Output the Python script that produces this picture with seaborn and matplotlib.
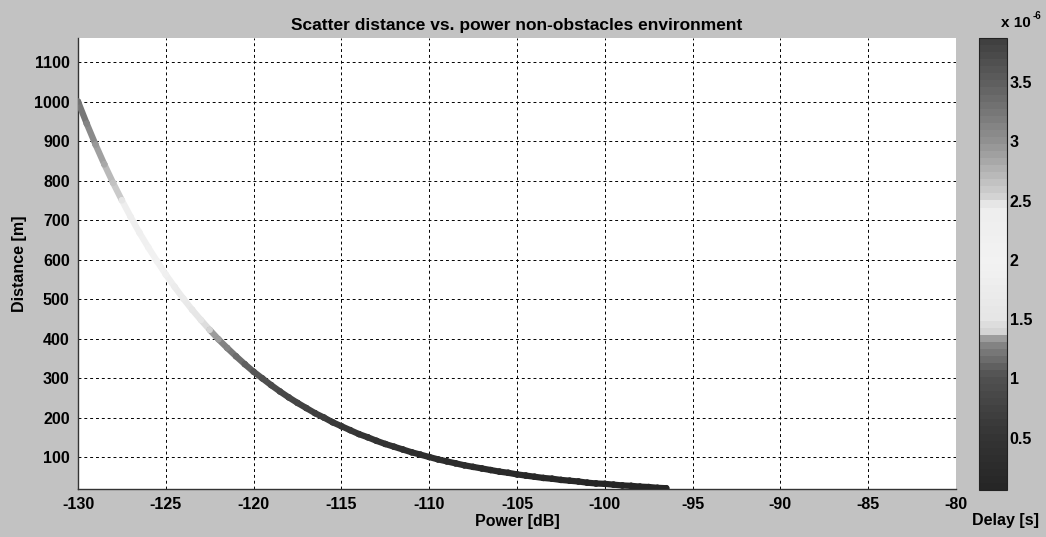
import numpy as np
import pandas as pd
import matplotlib
matplotlib.use("Agg")
import matplotlib.pyplot as plt
from matplotlib.colors import LinearSegmentedColormap, Normalize
from matplotlib.collections import LineCollection
import seaborn as sns

# Data
power_db = [-130, -129.5, -129, -128.5, -128, -127.5, -127, -126.5, -126, -125.5,
            -125, -124.5, -124, -123.5, -123, -122.5, -122, -121.5, -121, -120.5,
            -120, -119.5, -119, -118.5, -118, -117.5, -117, -116.5, -116, -115.5,
            -115, -114.5, -114, -113.5, -113, -112.5, -112, -111.5, -111, -110.5,
            -110, -109.5, -109, -108.5, -108, -107.5, -107, -106.5, -106, -105.5,
            -105, -104.5, -104, -103.5, -103, -102.5, -102, -101.5, -101, -100.5,
            -100, -99.5, -99, -98.5, -98, -97.5, -97, -96.5]
distance_m = [1000, 944, 891, 841, 794, 750, 708, 668, 631, 596,
              562, 531, 501, 473, 447, 422, 398, 376, 355, 335,
              316, 299, 282, 266, 251, 237, 224, 211, 200, 188,
              178, 168, 158, 150, 141, 133, 126, 119, 112, 106,
              100, 94, 89, 84, 79, 75, 71, 67, 63, 60,
              56, 53, 50, 47, 45, 42, 40, 38, 35, 33,
              32, 30, 28, 27, 25, 24, 22, 21]
speed_of_light = 3e8
delay_s = [d / speed_of_light for d in distance_m]

x_ticks = [-130, -125, -120, -115, -110, -105, -100, -95, -90, -85, -80]
y_ticks = [100, 200, 300, 400, 500, 600, 700, 800, 900, 1000, 1100]
cbar_ticks = [0.5e-6, 1e-6, 1.5e-6, 2e-6, 2.5e-6, 3e-6, 3.5e-6]
cbar_labels = ["0.5", "1", "1.5", "2", "2.5", "3", "3.5"]

df = pd.DataFrame({"Power": power_db, "Distance": distance_m, "Delay": delay_s})

# grayscale rendering of a jet-like colormap, as seen in the reference
gray_levels = [(0.00, 0.15), (0.12, 0.21), (0.25, 0.32), (0.33, 0.55), (0.345, 0.82),
               (0.38, 0.90), (0.50, 0.95), (0.63, 0.93), (0.645, 0.84), (0.72, 0.68),
               (0.78, 0.56), (0.90, 0.38), (1.00, 0.25)]
cmap = LinearSegmentedColormap.from_list(
    "jetgray", [(p, (g, g, g)) for p, g in gray_levels], N=64)
vmin, vmax = 0.06e-6, 3.87e-6
norm = Normalize(vmin=vmin, vmax=vmax)

sns.set_style("white")
plt.rcParams["font.family"] = ["Liberation Sans", "DejaVu Sans"]
plt.rcParams["font.weight"] = "bold"
plt.rcParams["text.color"] = "black"
plt.rcParams["axes.labelcolor"] = "black"
plt.rcParams["xtick.color"] = "black"
plt.rcParams["ytick.color"] = "black"

bg = "#c2c2c2"
fs = 11.5
fig = plt.figure(figsize=(10.46, 5.37), dpi=100, facecolor=bg)
ax = fig.add_axes([78 / 1046, 1 - 489 / 537, (956 - 78) / 1046, (489 - 38) / 537])
cax = fig.add_axes([979 / 1046, 1 - 490 / 537, (1007 - 979) / 1046, (490 - 38) / 537])

# coloured band connecting the read points
pts = np.column_stack([df["Power"], df["Distance"]])
segs = np.stack([pts[:-1], pts[1:]], axis=1)
mid_delay = (df["Delay"].values[:-1] + df["Delay"].values[1:]) / 2
lc = LineCollection(segs, cmap=cmap, norm=norm, linewidth=4.5, capstyle="round", zorder=3)
lc.set_array(mid_delay)
ax.add_collection(lc)

sns.scatterplot(data=df, x="Power", y="Distance", hue="Delay", palette=cmap,
                hue_norm=norm, s=22, marker="o", edgecolor="none", legend=False,
                ax=ax, zorder=4)

ax.set_xlim(-130, -80)
ax.set_ylim(19, 1161)
ax.set_xticks(x_ticks)
ax.set_yticks(y_ticks)
ax.set_xticklabels([str(t) for t in x_ticks], fontsize=fs, fontweight="bold")
ax.set_yticklabels([str(t) for t in y_ticks], fontsize=fs, fontweight="bold")
ax.grid(True, color="black", linestyle=(0, (3, 3)), linewidth=0.7)
ax.set_axisbelow(True)
for side in ["left", "bottom"]:
    ax.spines[side].set_color("#333333")
    ax.spines[side].set_linewidth(1.0)
for side in ["top", "right"]:
    ax.spines[side].set_visible(False)
ax.tick_params(axis="both", direction="in", length=4, color="#333333", pad=6)
ax.set_xlabel("Power [dB]", fontsize=fs, fontweight="bold", labelpad=1)
ax.set_ylabel("Distance [m]", fontsize=fs, fontweight="bold", labelpad=5)
ax.set_title("Scatter distance vs. power non-obstacles environment",
             fontsize=12.5, fontweight="bold", pad=6)

sm = plt.cm.ScalarMappable(cmap=cmap, norm=norm)
cb = fig.colorbar(sm, cax=cax)
cb.set_ticks(cbar_ticks)
cb.set_ticklabels(cbar_labels)
cb.outline.set_edgecolor("#222222")
cb.outline.set_linewidth(0.8)
cax.tick_params(axis="y", direction="in", length=4, labelsize=fs, pad=2, color="#555555")
for lab in cax.get_yticklabels():
    lab.set_fontweight("bold")
fig.text(1001 / 1046, 1 - 23 / 537, "x 10", ha="left", va="center",
         fontsize=11, fontweight="bold")
fig.text(1033 / 1046, 1 - 16 / 537, "-6", ha="left", va="center",
         fontsize=7, fontweight="bold")
fig.text(1006 / 1046, 1 - 520 / 537, "Delay [s]", ha="center", va="center",
         fontsize=fs, fontweight="bold")

fig.savefig("out.png", dpi=100, facecolor=bg)
